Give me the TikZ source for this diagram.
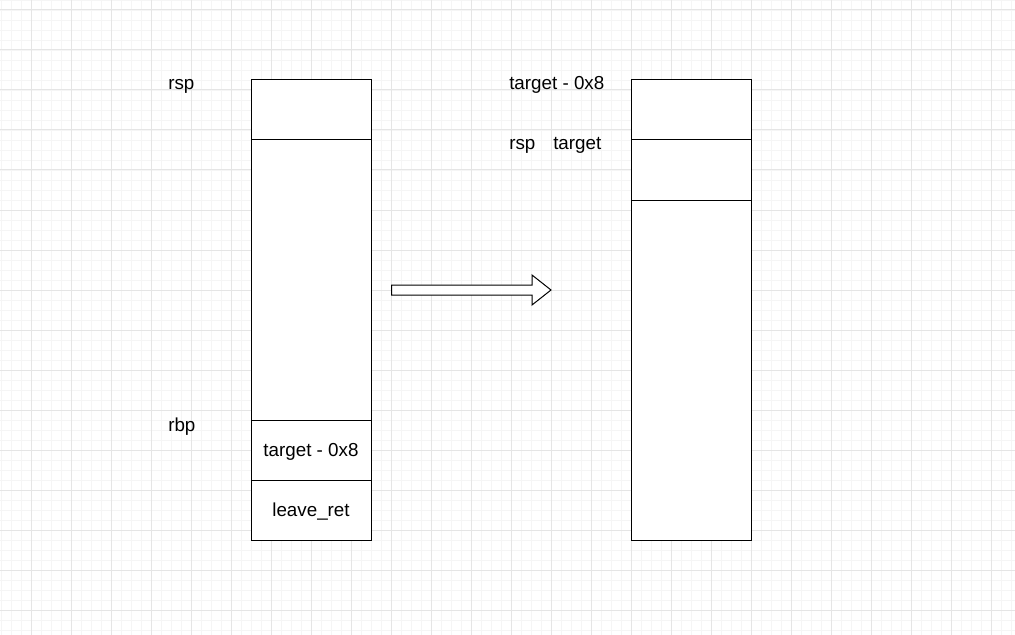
\documentclass[tikz,border=0pt]{standalone}
\usepackage{fontspec}
\setmainfont{Liberation Sans}
\usetikzlibrary{positioning}

\tikzset{
  cell/.style={draw=black,line width=0.75pt,fill=white,inner sep=0pt,
    minimum width=90pt,text height=12pt,text depth=2.2pt,
    font=\fontsize{14.1}{16}\selectfont},
  tag/.style={anchor=base west,inner sep=0pt,font=\fontsize{14.1}{16}\selectfont},
}

\begin{document}
\begin{tikzpicture}[x=0.75pt,y=-0.75pt]
  \useasboundingbox[fill=white] (0,0) rectangle (1015,635);
  % grid
  \foreach \x in {1,11,...,1011} \draw[black!4,line width=0.6pt] (\x,0) -- (\x,635);
  \foreach \y in {0,10,...,630} \draw[black!4,line width=0.6pt] (0,\y) -- (1015,\y);
  \foreach \x in {31,71,...,1011} \draw[black!10,line width=0.75pt] (\x,0) -- (\x,635);
  \foreach \y in {10,50,...,630} \draw[black!10,line width=0.75pt] (0,\y) -- (1015,\y);
  % stack before
  \node[cell,minimum height=45pt] (l1) at (311,110) {};
  \node[cell,minimum height=210pt] (l2) at (311,280) {};
  \node[cell,minimum height=45pt] (l3) at (311,450) {target - 0x8};
  \node[cell,minimum height=45pt] (l4) at (311,510) {leave\_ret};
  \node[tag] (lrsp) at (168,89.5) {rsp};
  \node[tag] (lrbp) at (168,431.5) {rbp};
  % stack after
  \node[cell,minimum height=45pt] (r1) at (691,110) {};
  \node[cell,minimum height=45pt] (r2) at (691,170) {};
  \node[cell,minimum height=255pt] (r3) at (691,370) {};
  \node[tag] (rtop) at (509,89.5) {target - 0x8};
  \node[tag] (rrsp) at (509,149.5) {rsp};
  \node[tag] (rtgt) at (553,149.5) {target};
  % arrow
  \draw[line width=0.75pt,fill=white] (391.5,285) -- (532,285) -- (532,275) -- (551,290)
    -- (532,305) -- (532,295) -- (391.5,295) -- cycle;
\end{tikzpicture}
\end{document}
